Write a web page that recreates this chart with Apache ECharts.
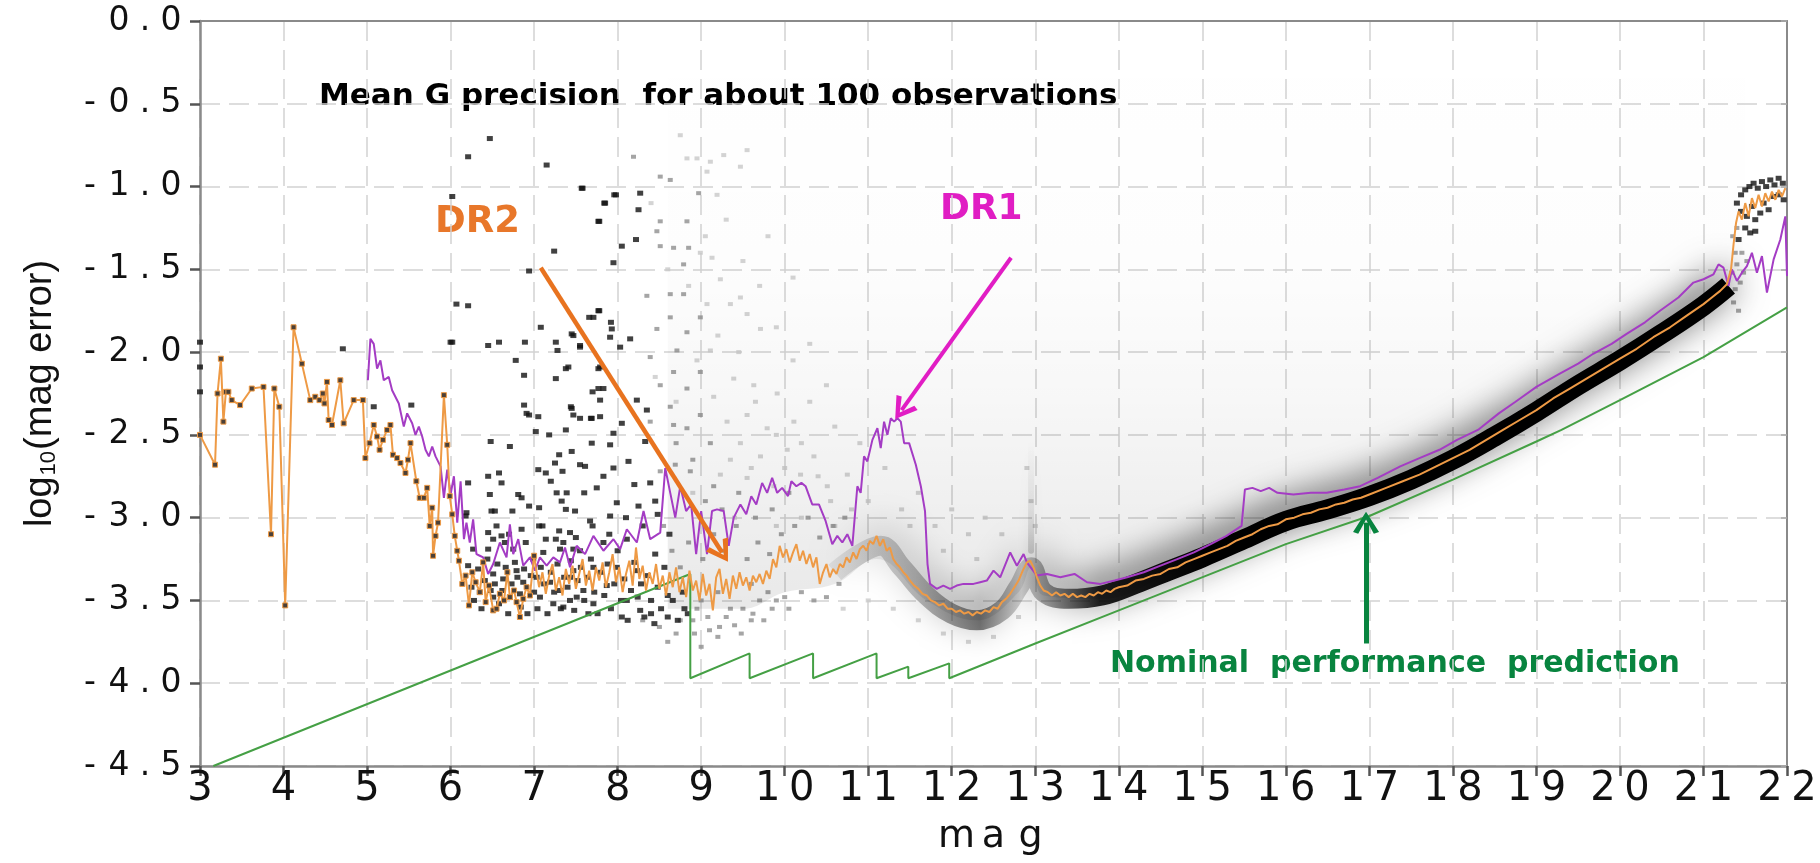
<!DOCTYPE html>
<html><head><meta charset="utf-8">
<script src="https://cdn.jsdelivr.net/npm/echarts@6/dist/echarts.min.js"></script>
<style>html,body{margin:0;padding:0;background:#fff}#c{width:1820px;height:863px}</style>
</head><body><div id="c"></div>
<script>
// ---- axis ranges / ticks ----
const X_MIN = 3, X_MAX = 22, X_STEP = 1;
const Y_MIN = -4.5, Y_MAX = 0, Y_STEP = 0.5;

// ---- DR2 median (bright end, with point markers) [mag, log10 err] ----
const dr2Bright = [
[3.0,-2.50],[3.18,-2.68],[3.21,-2.25],[3.25,-2.04],[3.28,-2.42],[3.31,-2.24],[3.34,-2.24],[3.38,-2.29],
[3.48,-2.32],[3.62,-2.22],[3.76,-2.21],[3.85,-3.10],[3.89,-2.22],[3.95,-2.33],[4.02,-3.53],[4.12,-1.85],
[4.22,-2.07],[4.32,-2.29],[4.38,-2.27],[4.43,-2.29],[4.47,-2.25],[4.49,-2.31],[4.52,-2.18],[4.54,-2.41],
[4.58,-2.44],[4.68,-2.17],[4.72,-2.43],[4.84,-2.29],[4.95,-2.29],[4.98,-2.64],[5.03,-2.55],[5.08,-2.44],
[5.12,-2.51],[5.15,-2.59],[5.19,-2.53],[5.24,-2.47],[5.28,-2.44],[5.31,-2.62],[5.36,-2.64],[5.40,-2.67],
[5.46,-2.73],[5.49,-2.65],[5.52,-2.55],[5.59,-2.78],[5.63,-2.88],[5.68,-2.88],[5.72,-2.82],[5.75,-3.05],
[5.78,-2.94],[5.79,-3.23],[5.82,-3.11],[5.85,-3.03],[5.92,-2.26],[5.96,-2.56],[5.99,-2.87],[6.02,-2.98],
[6.05,-3.11],[6.08,-3.20],[6.10,-3.26],[6.14,-3.40],[6.18,-3.35],[6.22,-3.53],[6.26,-3.33],[6.30,-3.39],
[6.35,-3.45],[6.39,-3.27],[6.42,-3.51],[6.46,-3.41],[6.51,-3.56],[6.55,-3.55],[6.59,-3.46],[6.64,-3.50],
[6.68,-3.33],[6.71,-3.48],[6.76,-3.44],[6.79,-3.51],[6.83,-3.60],[6.87,-3.49],[6.91,-3.42],[6.95,-3.47],
[7.0,-3.23]
];

// ---- DR2 median (rest of the range) ----
const dr2 = [
[7.0,-3.23],[7.02,-3.30],[7.06,-3.42],[7.10,-3.33],[7.14,-3.46],[7.18,-3.35],[7.22,-3.28],[7.26,-3.44],[7.30,-3.36],
[7.34,-3.47],[7.38,-3.31],[7.42,-3.40],[7.46,-3.29],[7.50,-3.43],[7.54,-3.34],[7.58,-3.25],[7.62,-3.41],
[7.66,-3.32],[7.70,-3.44],[7.74,-3.30],[7.78,-3.38],[7.82,-3.27],[7.86,-3.42],[7.90,-3.33],[7.94,-3.22],
[7.98,-3.39],[8.02,-3.30],[8.06,-3.45],[8.10,-3.34],[8.14,-3.26],[8.18,-3.41],[8.22,-3.18],[8.26,-3.37],
[8.30,-3.29],[8.34,-3.44],[8.38,-3.33],[8.42,-3.40],[8.46,-3.28],[8.50,-3.43],[8.54,-3.35],[8.58,-3.47],
[8.62,-3.33],[8.66,-3.42],[8.70,-3.30],[8.74,-3.45],[8.78,-3.36],[8.82,-3.48],[8.86,-3.32],[8.90,-3.44],
[8.94,-3.38],[8.98,-3.50],[9.02,-3.34],[9.06,-3.47],[9.10,-3.40],[9.14,-3.56],[9.18,-3.36],[9.22,-3.31],
[9.26,-3.46],[9.30,-3.37],[9.34,-3.49],[9.38,-3.35],[9.42,-3.43],[9.46,-3.33],[9.50,-3.41],[9.54,-3.36],
[9.58,-3.44],[9.62,-3.35],[9.66,-3.39],[9.70,-3.34],[9.74,-3.40],[9.78,-3.32],[9.82,-3.37],[9.86,-3.25],
[9.90,-3.30],[9.94,-3.17],[9.98,-3.24],[10.02,-3.19],[10.06,-3.27],[10.10,-3.21],[10.14,-3.16],[10.18,-3.26],
[10.22,-3.20],[10.26,-3.28],[10.30,-3.22],[10.34,-3.30],[10.38,-3.24],[10.42,-3.40],[10.46,-3.33],[10.50,-3.28],
[10.54,-3.36],[10.58,-3.31],[10.62,-3.34],[10.66,-3.28],[10.70,-3.30],[10.74,-3.24],[10.78,-3.27],[10.82,-3.21],
[10.86,-3.25],[10.90,-3.19],[10.94,-3.17],[10.98,-3.20],[11.02,-3.14],[11.06,-3.16],[11.10,-3.11],[11.14,-3.17],
[11.18,-3.13],[11.22,-3.20],[11.26,-3.18],[11.30,-3.25],[11.34,-3.28],[11.38,-3.30],[11.42,-3.33],[11.46,-3.35],
[11.50,-3.38],[11.55,-3.41],[11.60,-3.43],[11.65,-3.46],[11.70,-3.47],[11.75,-3.50],[11.80,-3.51],[11.85,-3.53],
[11.90,-3.52],[11.95,-3.55],[12.00,-3.55],[12.05,-3.57],[12.10,-3.56],[12.15,-3.58],[12.20,-3.57],[12.25,-3.59],
[12.30,-3.57],[12.35,-3.58],[12.40,-3.56],[12.45,-3.57],[12.50,-3.54],[12.55,-3.55],[12.60,-3.51],[12.65,-3.49],
[12.70,-3.46],[12.75,-3.42],[12.80,-3.38],[12.85,-3.32],[12.90,-3.27],[12.94,-3.26],[12.98,-3.30],[13.02,-3.36],
[13.06,-3.41],[13.10,-3.44],[13.15,-3.45],[13.20,-3.47],[13.25,-3.45],[13.30,-3.47],[13.35,-3.46],[13.40,-3.48],
[13.45,-3.46],[13.50,-3.48],[13.55,-3.47],[13.60,-3.48],[13.65,-3.46],[13.70,-3.47],[13.75,-3.45],[13.80,-3.46],
[13.85,-3.44],[13.90,-3.45],[13.95,-3.43],[14.00,-3.42],[14.1,-3.41],[14.2,-3.38],[14.3,-3.37],[14.4,-3.35],
[14.5,-3.34],[14.6,-3.31],[14.7,-3.30],[14.8,-3.27],[14.9,-3.25],[15.0,-3.23],[15.1,-3.21],[15.2,-3.19],
[15.3,-3.17],[15.4,-3.14],[15.5,-3.12],[15.6,-3.10],[15.7,-3.07],[15.8,-3.05],[15.9,-3.04],[16.0,-3.01],
[16.1,-3.00],[16.2,-2.98],[16.3,-2.97],[16.4,-2.95],[16.5,-2.94],[16.6,-2.92],[16.7,-2.91],[16.8,-2.89],
[16.9,-2.88],[17.0,-2.86],[17.2,-2.82],[17.4,-2.78],[17.6,-2.74],[17.8,-2.69],[18.0,-2.64],[18.2,-2.59],
[18.4,-2.53],[18.6,-2.47],[18.8,-2.41],[19.0,-2.35],[19.2,-2.28],[19.4,-2.22],[19.6,-2.16],[19.8,-2.10],
[20.0,-2.04],[20.2,-1.98],[20.4,-1.91],[20.6,-1.85],[20.8,-1.78],[21.0,-1.71],[21.1,-1.67],[21.2,-1.63],
[21.28,-1.59],[21.33,-1.50],[21.36,-1.35],[21.39,-1.22],[21.42,-1.15],[21.46,-1.20],[21.50,-1.10],[21.54,-1.18],
[21.58,-1.07],[21.62,-1.13],[21.66,-1.05],[21.70,-1.12],[21.74,-1.04],[21.78,-1.09],[21.82,-1.03],[21.86,-1.08],
[21.90,-1.02],[21.94,-1.06],[21.98,-1.01]
];

// ---- DR1 median ----
const dr1 = [
[5.01,-2.17],[5.04,-1.92],[5.08,-1.95],[5.12,-2.10],[5.16,-2.05],[5.20,-2.17],[5.26,-2.15],[5.30,-2.23],
[5.38,-2.31],[5.44,-2.45],[5.48,-2.37],[5.54,-2.43],[5.58,-2.50],[5.62,-2.45],[5.66,-2.51],[5.70,-2.59],
[5.74,-2.63],[5.78,-2.57],[5.82,-2.63],[5.88,-2.69],[5.92,-2.88],[5.96,-2.71],[6.00,-2.86],[6.04,-2.75],
[6.08,-3.03],[6.12,-2.78],[6.16,-3.13],[6.19,-3.03],[6.23,-3.15],[6.27,-3.01],[6.31,-3.22],[6.35,-3.23],
[6.39,-3.24],[6.45,-3.34],[6.51,-3.28],[6.59,-3.15],[6.67,-3.24],[6.71,-3.04],[6.75,-3.22],[6.81,-3.13],
[6.87,-3.29],[6.95,-3.24],[7.01,-3.32],[7.07,-3.24],[7.15,-3.29],[7.23,-3.24],[7.31,-3.27],[7.37,-3.18],
[7.43,-3.30],[7.51,-3.17],[7.61,-3.22],[7.71,-3.11],[7.83,-3.20],[7.95,-3.13],[8.03,-3.19],[8.11,-3.07],
[8.23,-3.15],[8.31,-2.96],[8.39,-3.13],[8.51,-3.09],[8.57,-2.70],[8.63,-2.85],[8.69,-3.00],[8.75,-2.81],
[8.82,-2.96],[8.88,-2.92],[8.94,-3.22],[9.00,-2.96],[9.07,-3.22],[9.13,-2.96],[9.19,-2.95],[9.27,-2.96],
[9.33,-3.17],[9.39,-3.00],[9.47,-2.92],[9.54,-2.98],[9.60,-2.87],[9.66,-2.92],[9.73,-2.79],[9.79,-2.85],
[9.85,-2.76],[9.91,-2.85],[9.97,-2.82],[10.04,-2.87],[10.08,-2.78],[10.14,-2.81],[10.20,-2.79],[10.25,-2.81],
[10.33,-2.92],[10.41,-2.92],[10.49,-3.02],[10.57,-3.16],[10.63,-3.11],[10.69,-3.15],[10.75,-3.10],[10.81,-3.17],
[10.87,-2.81],[10.91,-2.85],[10.95,-2.63],[10.99,-2.66],[11.05,-2.53],[11.11,-2.46],[11.15,-2.58],[11.19,-2.42],
[11.23,-2.50],[11.27,-2.40],[11.31,-2.42],[11.35,-2.40],[11.39,-2.42],[11.43,-2.55],[11.49,-2.55],[11.57,-2.68],
[11.63,-2.81],[11.68,-2.96],[11.71,-3.28],[11.74,-3.40],[11.82,-3.43],[11.90,-3.41],[11.98,-3.43],[12.06,-3.41],
[12.14,-3.40],[12.26,-3.40],[12.34,-3.39],[12.42,-3.38],[12.50,-3.32],[12.58,-3.36],[12.70,-3.21],[12.78,-3.29],
[12.86,-3.22],[12.90,-3.27],[13.02,-3.35],[13.14,-3.34],[13.30,-3.36],[13.47,-3.34],[13.62,-3.39],[13.78,-3.40],
[13.95,-3.38],[14.1,-3.36],[14.3,-3.33],[14.5,-3.29],[14.7,-3.25],[14.9,-3.21],[15.1,-3.16],[15.29,-3.11],
[15.47,-3.05],[15.51,-2.83],[15.6,-2.82],[15.7,-2.84],[15.8,-2.82],[15.9,-2.85],[16.09,-2.86],[16.3,-2.85],
[16.49,-2.85],[16.7,-2.83],[16.89,-2.81],[17.1,-2.76],[17.37,-2.69],[17.6,-2.64],[17.84,-2.59],[18.05,-2.53],
[18.3,-2.47],[18.55,-2.37],[18.75,-2.30],[19.0,-2.21],[19.28,-2.13],[19.5,-2.07],[19.68,-2.01],[19.9,-1.95],
[20.08,-1.89],[20.3,-1.82],[20.48,-1.75],[20.7,-1.67],[20.88,-1.58],[21.0,-1.56],[21.12,-1.53],[21.18,-1.47],
[21.24,-1.49],[21.30,-1.60],[21.34,-1.50],[21.40,-1.57],[21.46,-1.52],[21.52,-1.48],[21.58,-1.40],[21.64,-1.52],
[21.70,-1.42],[21.76,-1.64],[21.84,-1.44],[21.92,-1.32],[21.98,-1.18],[22.0,-1.54]
];

// ---- nominal performance prediction ----
const nominal = [
[3.16,-4.50],[8.87,-3.34],[8.87,-3.97],[9.58,-3.82],[9.58,-3.97],[10.34,-3.82],[10.34,-3.97],
[11.10,-3.82],[11.10,-3.97],[11.48,-3.90],[11.48,-3.97],[11.97,-3.88],[11.97,-3.97],[13.0,-3.76],
[14.0,-3.56],[15.2,-3.32],[16.0,-3.16],[17.0,-2.99],[18.0,-2.77],[19.0,-2.54],[19.3,-2.47],
[20.0,-2.29],[21.0,-2.03],[22.0,-1.73]
];

// ---- individual sources (dark) ----
const blackDots = [
[3.0,-1.94],[3.0,-2.09],[3.0,-2.24],[4.71,-1.98],[5.08,-2.33],[5.53,-2.32],
[6.47,-0.71],[6.21,-0.82],[7.15,-0.87],[6.02,-1.06],[7.57,-1.01],[7.96,-1.05],[7.84,-1.10],[7.77,-1.21],
[7.24,-1.39],[6.94,-1.51],[6.07,-1.71],[6.21,-1.72],[7.08,-1.85],[6.02,-1.94],[6.45,-1.96],[6.58,-1.94],
[6.89,-1.94],[7.26,-1.94],[7.28,-1.99],[6.78,-2.05],[7.45,-1.89],[7.55,-1.96],[7.66,-1.79],[7.77,-1.75],
[7.92,-1.82],[6.88,-2.14],[7.26,-2.16],[7.38,-2.10],[7.77,-2.10],[7.70,-2.24],[6.88,-2.32],[6.94,-2.38],
[7.05,-2.39],[7.44,-2.33],[7.68,-2.40],[7.79,-2.29],[6.0,-1.94],[7.45,-2.34],[6.91,-2.37],[7.02,-2.48],
[7.18,-2.50],[7.38,-2.47],[6.48,-2.54],[6.71,-2.57],[7.30,-2.62],[7.25,-2.67],[7.05,-2.71],[7.14,-2.73],
[7.34,-2.72],[6.45,-2.75],[6.58,-2.73],[6.61,-2.79],[6.21,-2.79],[6.47,-2.86],[6.81,-2.86],[6.85,-2.88],
[6.94,-2.93],[6.49,-2.96],[6.53,-2.96],[6.74,-2.96],[7.06,-2.94],[7.27,-2.85],[7.33,-2.90],[7.38,-2.95],
[6.19,-2.97],[6.18,-2.99],[6.45,-3.09],[6.51,-3.13],[6.61,-3.11],[6.85,-3.07],[7.06,-3.05],[7.14,-3.13],
[7.26,-3.13],[7.43,-3.09],[6.27,-3.19],[6.45,-3.19],[6.65,-3.15],[6.75,-3.19],[6.99,-3.25],[7.11,-3.21],
[7.31,-3.19],[7.47,-3.19],[6.21,-3.29],[6.51,-3.34],[6.63,-3.37],[6.79,-3.32],[6.87,-3.39],[7.03,-3.36],
[7.19,-3.39],[7.31,-3.44],[7.43,-3.36],[6.71,-3.48],[6.83,-3.46],[7.07,-3.48],[7.23,-3.52],[7.35,-3.54],
[7.51,-3.48],[6.35,-3.45],[6.51,-3.48],
[7.58,-1.01],[7.98,-1.05],[7.85,-1.10],[8.25,-1.14],[7.78,-1.21],[8.27,-1.04],[7.95,-1.46],[8.05,-1.36],
[8.22,-1.32],[7.71,-1.79],[7.78,-1.75],[7.47,-1.90],[7.55,-1.97],[7.93,-1.86],[7.91,-1.91],[7.41,-2.09],
[7.79,-2.09],[7.77,-2.22],[7.83,-2.22],[8.03,-1.97],[8.15,-1.92],[7.47,-2.38],[7.69,-2.40],[7.79,-2.39],
[7.95,-2.49],[8.05,-2.43],[8.23,-2.29],[7.69,-2.55],[7.91,-2.56],[7.55,-2.68],[7.61,-2.69],[7.83,-2.75],
[7.39,-2.85],[7.75,-2.82],[8.13,-2.66],[8.33,-2.54],[7.99,-2.91],[7.49,-2.96],[7.67,-3.02],[7.91,-2.99],
[8.25,-2.93],[8.39,-2.79],[7.55,-3.20],[7.35,-3.15],[7.83,-3.15],[8.11,-3.13],[7.47,-3.32],[7.71,-3.30],
[7.99,-3.30],[8.23,-3.32],[7.59,-3.44],[7.87,-3.41],[7.43,-3.50],[7.71,-3.52],[8.11,-3.50],[8.27,-3.56],
[8.45,-3.22],[8.60,-3.47],[8.05,-3.60],[8.40,-3.58],[8.80,-3.55],[7.65,-3.58],[8.62,-3.10],[8.48,-2.98],
[6.25,-3.42],[6.28,-3.50],[6.33,-3.31],[6.37,-3.55],[6.41,-3.38],[6.44,-3.25],[6.48,-3.44],[6.53,-3.40],
[6.56,-3.28],[6.58,-3.52],[6.62,-3.44],[6.66,-3.30],[6.69,-3.58],[6.73,-3.40],[6.77,-3.27],[6.80,-3.36],
[6.84,-3.54],[6.88,-3.31],[6.92,-3.58],[6.96,-3.35],[7.00,-3.45],[7.04,-3.55],[7.08,-3.30],[7.12,-3.40],
[7.16,-3.58],[7.20,-3.33],[7.24,-3.45],[7.28,-3.28],[7.32,-3.55],[7.36,-3.36],[7.40,-3.42],[7.44,-3.26],
[7.48,-3.56],[7.52,-3.38],[7.56,-3.30],[7.60,-3.50],[7.64,-3.36],[7.68,-3.25],[7.72,-3.45],[7.76,-3.58],
[7.80,-3.33],[7.84,-3.47],[7.88,-3.28],[7.92,-3.55],[7.96,-3.40],[8.00,-3.20],[8.04,-3.50],[8.08,-3.37],
[8.12,-3.62],[8.16,-3.44],[8.20,-3.27],[8.24,-3.48],[8.28,-3.40],[8.32,-3.60],[8.36,-3.35],[8.40,-3.50],
[8.44,-3.64],[8.48,-3.42],[8.52,-3.55],[8.56,-3.30],[8.60,-3.60],[8.66,-3.50],[8.72,-3.62],[8.78,-3.45],
[8.84,-3.58],[6.55,-3.05],[6.70,-3.10],[6.90,-3.15],[7.10,-3.05],[7.30,-3.08],[7.50,-3.12],[7.70,-3.05],
[7.90,-3.10],[8.10,-3.00],[8.30,-3.05],[7.20,-2.78],[7.45,-2.60],[7.60,-2.85],[7.95,-2.70],[8.20,-2.80],
[7.55,-2.40],[8.35,-2.35],[8.45,-2.90],
[21.40,-1.10],[21.45,-1.05],[21.50,-1.02],[21.55,-1.00],[21.60,-0.98],[21.65,-1.01],[21.70,-0.97],
[21.75,-1.00],[21.80,-0.96],[21.85,-0.99],[21.90,-0.95],[21.95,-0.98],[21.45,-1.15],[21.52,-1.18],
[21.58,-1.12],[21.62,-1.20],[21.68,-1.16],[21.72,-1.10],[21.78,-1.14],[21.84,-1.06],[21.50,-1.25],
[21.56,-1.28],[21.62,-1.27],[21.42,-1.32],[21.90,-1.05],[21.96,-1.08]
];

// ---- individual sources (grey) ----
const greyDots = [
[8.19,-0.82],[8.51,-0.94],[8.63,-0.96],[8.51,-1.21],[8.47,-1.27],[8.67,-1.37],[8.51,-1.36],[8.63,-1.65],
[8.35,-1.66],[8.63,-1.79],[8.47,-1.86],[8.71,-1.99],[8.39,-2.03],[8.67,-2.12],[8.51,-2.20],[8.63,-2.33],
[8.39,-2.42],[8.51,-2.72],[8.87,-2.72],[9.15,-2.81],[8.83,-2.22],[8.83,-2.46],[8.79,-1.65],[8.83,-1.88],
[8.99,-1.79],[8.99,-2.12],[8.99,-2.38],[9.11,-2.55],[8.69,-2.68],[8.67,-2.44],[8.79,-1.47],[8.85,-1.37],
[8.83,-1.21],[8.97,-1.04],
[8.30,-3.62],[8.50,-3.66],[8.70,-3.70],[8.90,-3.62],[9.10,-3.68],[9.30,-3.60],[9.50,-3.55],[9.70,-3.50],
[8.60,-3.75],[9.00,-3.78],[9.20,-3.72],[8.95,-3.55],[9.40,-3.65],[9.60,-3.62],[9.85,-3.55],[10.0,-3.48],
[8.55,-3.05],[8.65,-3.20],[8.75,-3.62],[8.85,-3.15],[8.92,-3.70],[9.02,-3.25],[9.08,-3.60],[9.15,-3.10],
[9.22,-3.66],[9.28,-3.20],[9.35,-3.55],[9.42,-3.05],[9.48,-3.70],[9.55,-3.25],[9.62,-3.58],[9.68,-3.15],
[9.75,-3.62],[9.82,-3.22],[9.90,-3.50],[9.96,-3.10],[10.05,-3.55],[10.12,-3.05],[10.20,-3.45],[10.28,-3.00],
[10.35,-3.50],[10.42,-3.12],[10.50,-3.48],[10.58,-3.05],[10.65,-3.40],[10.72,-3.00],[8.70,-2.55],[8.90,-2.65],
[9.05,-2.90],[9.25,-2.95],[9.45,-2.85],[9.65,-3.00],[9.85,-2.95],[10.05,-2.85],[8.75,-3.30],[9.00,-3.50],
[9.20,-3.45],[9.60,-3.40],[9.80,-3.45],
[21.38,-1.40],[21.34,-1.52],[21.40,-1.47],[21.44,-1.58],[21.38,-1.62],[21.46,-1.40],[21.48,-1.52],
[21.52,-1.45],[21.36,-1.70],[21.42,-1.75],[21.35,-1.30],[21.40,-1.25]
];

// ---- individual sources (pale) ----
const paleDots = [
[8.75,-0.69],[8.83,-0.83],[8.95,-0.83],[9.11,-0.85],[9.27,-0.81],[9.47,-0.88],[9.55,-0.78],[9.07,-0.91],
[9.19,-1.05],[8.99,-1.40],[9.13,-1.43],[9.23,-1.56],[9.47,-1.67],[9.07,-1.71],[9.35,-1.71],[9.55,-1.77],
[9.71,-1.86],[9.11,-1.99],[9.39,-2.16],[9.63,-2.20],[9.91,-2.25],[9.15,-2.27],[9.31,-2.42],[9.55,-2.38],
[9.79,-2.46],[10.11,-2.42],[9.47,-2.55],[9.71,-2.63],[10.03,-2.59],[10.35,-2.63],[9.23,-2.74],[9.55,-2.76],
[9.87,-2.81],[10.19,-2.74],[10.51,-2.81],[10.75,-2.74],[9.8,-1.30],[10.1,-1.55],[10.3,-1.95],[10.5,-2.20],
[10.6,-2.45],[10.9,-2.55],[11.2,-2.70],[11.6,-2.85],[12.0,-2.95],[12.4,-3.00],[12.9,-2.70],[12.95,-2.90],
[13.0,-3.05],[10.2,-3.00],[10.6,-3.05],[11.5,-3.05],[11.9,-3.20],[12.3,-3.25],[9.9,-3.05],[9.4,-3.00],
[8.40,-1.10],[8.60,-1.50],[8.85,-1.60],[9.05,-1.30],[9.30,-1.20],[9.50,-1.45],[9.70,-1.60],[9.90,-1.85],
[10.10,-2.05],[10.30,-2.30],[8.45,-2.15],[8.70,-2.30],[8.95,-2.05],[9.20,-1.90],[9.45,-2.00],[9.65,-2.30],
[9.90,-2.50],[10.20,-2.55],[10.40,-2.75],[8.90,-2.85],[9.35,-2.65],[9.60,-2.70],[10.00,-2.70],[10.55,-2.90],
[10.80,-2.95],[11.00,-2.90],[11.40,-2.95],[11.80,-3.05],[12.20,-3.10],[12.60,-3.10],[10.70,-3.55],[11.00,-3.50],
[11.30,-3.55],[11.60,-3.62],[11.90,-3.70],[12.20,-3.75],[12.50,-3.72],[12.80,-3.60]
];

// ---- centre line of the dense source distribution ----
const bandCore = [
[10.6,-3.33],[10.9,-3.22],[11.15,-3.17],[11.4,-3.30],[11.7,-3.47],[12.0,-3.58],[12.3,-3.62],[12.6,-3.56],
[12.8,-3.42],[12.95,-3.30],[13.1,-3.45],[13.4,-3.49],[13.8,-3.47],[14.2,-3.40],[14.6,-3.32],[15.0,-3.24],
[15.5,-3.13],[16.0,-3.02],[16.5,-2.95],[17.0,-2.87],[17.5,-2.77],[18.0,-2.65],[18.5,-2.51],[19.0,-2.36],
[19.5,-2.20],[20.0,-2.05],[20.5,-1.89],[21.0,-1.72],[21.3,-1.60]
];
// ---- upper envelope of the faint haze of sources ----
const hazeLine = [
[8.6,-3.55],[9.5,-3.55],[10.0,-3.45],[10.6,-3.40],[11.1,-3.25],[11.7,-3.50],[12.3,-3.62],[12.8,-3.45],
[12.95,-3.30],[13.1,-3.47],[13.8,-3.49],[14.6,-3.34],[15.5,-3.15],[16.5,-2.97],[17.5,-2.79],[18.5,-2.53],
[19.5,-2.22],[20.5,-1.91],[21.3,-1.62],[21.5,-1.2]
];
// ---- faint vertical streak of sources above mag 13 ----
const streak13 = [[12.95,-2.55],[12.95,-3.2]];

// ---- annotation arrows, in data coordinates ----
const arrowDR2 = [[7.08,-1.49],[9.25,-3.21]];
const arrowDR1 = [[12.71,-1.43],[11.40,-2.35]];
const arrowNominal = [[16.96,-3.76],[16.96,-3.03]];

const AX_FONT = 'DejaVu Sans';
const NAME_FONT = 'Liberation Sans';
const ANN_FONT = 'DejaVu Sans';

function yLab(v){
  const s = (Math.abs(v) < 1e-9 ? 0 : v).toFixed(1);
  return s.split('').map(c => c === '-' ? '{m|-}' : c === '.' ? '{p|.}' : '{d|' + c + '}').join('');
}
function xLab(v){
  return String(Math.round(v)).split('').map(c => '{d|' + c + '}').join('');
}

const chevron = 'path://M10,0 L20,18 L16,19.5 L10,7 L4,19.5 L0,18 Z';

function arrowLine(pts, color, width){
  return [
    {coord: pts[0], symbol: 'none', lineStyle: {color: color, width: width, type: 'solid'}},
    {coord: pts[1], symbol: chevron, symbolSize: [26, 22], itemStyle: {color: color}}
  ];
}

const chart = echarts.init(document.getElementById('c'), null, {renderer: 'canvas'});
const gridDash = {color: '#d2d2d2', width: 1.5, type: [20, 9]};

chart.setOption({
  animation: false,
  backgroundColor: '#ffffff',
  grid: {left: 200, right: 33, top: 21, bottom: 97, containLabel: false},
  xAxis: [{
    type: 'value', min: X_MIN, max: X_MAX, interval: X_STEP, position: 'bottom',
    axisLine: {show: true, onZero: false, lineStyle: {color: '#8a8a8a', width: 2.5}},
    axisTick: {show: true, inside: false, length: 10, lineStyle: {color: '#555', width: 2.5}},
    splitLine: {show: true, lineStyle: gridDash},
    axisLabel: {
      margin: 4, formatter: xLab, color: '#111',
      rich: {d: {width: 34, align: 'center', fontSize: 40, fontFamily: AX_FONT, color: '#111'}}
    },
    name: '{c|m}{c|a}{c|g}', nameLocation: 'middle', nameGap: 52,
    nameTextStyle: {rich: {c: {width: 37, align: 'center', fontSize: 38, fontFamily: AX_FONT, color: '#111'}}}
  }, {
    type: 'value', min: X_MIN, max: X_MAX, interval: X_STEP, position: 'top',
    axisLine: {show: true, onZero: false, lineStyle: {color: '#8a8a8a', width: 2}},
    axisTick: {show: false}, axisLabel: {show: false}, splitLine: {show: false}
  }],
  yAxis: [{
    type: 'value', min: Y_MIN, max: Y_MAX, interval: Y_STEP, position: 'left',
    axisLine: {show: true, onZero: false, lineStyle: {color: '#8a8a8a', width: 2.5}},
    axisTick: {show: true, inside: false, length: 10, lineStyle: {color: '#555', width: 2.5}},
    splitLine: {show: true, lineStyle: gridDash},
    axisLabel: {
      margin: 14, formatter: yLab, color: '#111',
      rich: {
        d: {width: 30, align: 'center', fontSize: 33, fontFamily: AX_FONT, color: '#111'},
        m: {width: 28, align: 'center', fontSize: 33, fontFamily: AX_FONT, color: '#111'},
        p: {width: 22, align: 'center', fontSize: 33, fontFamily: AX_FONT, color: '#111'}
      }
    },
    name: '{n|log}{s|10}{n|(mag error)}', nameLocation: 'middle', nameGap: 140,
    nameTextStyle: {rich: {
      n: {fontSize: 38, fontFamily: NAME_FONT, color: '#111'},
      s: {fontSize: 22, fontFamily: NAME_FONT, color: '#111', verticalAlign: 'bottom', padding: [14, 1, 0, 1]}
    }}
  }, {
    type: 'value', min: Y_MIN, max: Y_MAX, interval: Y_STEP, position: 'right',
    axisLine: {show: true, onZero: false, lineStyle: {color: '#8a8a8a', width: 2}},
    axisTick: {show: true, inside: true, length: 6, lineStyle: {color: '#aaa', width: 1.5}},
    axisLabel: {show: false}, splitLine: {show: false}
  }],
  graphic: [
    {type: 'text', x: 319, y: 97, silent: true, style: {
      text: 'Mean G precision  for about 100 observations', fontFamily: ANN_FONT, fontWeight: 'bold',
      fontSize: 31, fill: '#000', verticalAlign: 'middle'}},
    {type: 'text', x: 435, y: 222, silent: true, style: {
      text: 'DR2', fontFamily: ANN_FONT, fontWeight: 'bold', fontSize: 37, fill: '#E8772A', verticalAlign: 'middle'}},
    {type: 'text', x: 940, y: 210, silent: true, style: {
      text: 'DR1', fontFamily: ANN_FONT, fontWeight: 'bold', fontSize: 36, fill: '#E11DC4', verticalAlign: 'middle'}},
    {type: 'text', x: 1110, y: 664, silent: true, style: {
      text: 'Nominal  performance  prediction', fontFamily: ANN_FONT, fontWeight: 'bold', fontSize: 30,
      fill: '#08843F', verticalAlign: 'middle'}}
  ],
  series: [
    { // broad faint haze of the source distribution
      name: 'haze', type: 'line', data: hazeLine, symbol: 'none', silent: true, smooth: 0.4,
      lineStyle: {width: 0, opacity: 0},
      areaStyle: {origin: 'end', color: new echarts.graphic.LinearGradient(0, 0, 0, 1, [
        {offset: 0, color: 'rgba(0,0,0,0)'},
        {offset: 0.4, color: 'rgba(0,0,0,0.012)'},
        {offset: 0.62, color: 'rgba(0,0,0,0.045)'},
        {offset: 0.82, color: 'rgba(0,0,0,0.09)'},
        {offset: 1, color: 'rgba(0,0,0,0.13)'}
      ])}
    },
    { // faint streak of sources above the mag-13 feature
      name: 'streak', type: 'line', data: streak13, symbol: 'none', silent: true,
      lineStyle: {width: 6, cap: 'round',
        color: new echarts.graphic.LinearGradient(0, 0, 0, 1, [
          {offset: 0, color: 'rgba(0,0,0,0)'},
          {offset: 0.6, color: 'rgba(0,0,0,0.07)'},
          {offset: 1, color: 'rgba(0,0,0,0.16)'}
        ]),
        shadowBlur: 12, shadowColor: 'rgba(0,0,0,0.5)'}
    },
    { // dense core of the source distribution
      name: 'core', type: 'line', data: bandCore, symbol: 'none', silent: true, smooth: 0.4,
      lineStyle: {width: 20,
        color: new echarts.graphic.LinearGradient(0, 0, 1, 0, [
          {offset: 0, color: 'rgba(60,60,60,0.08)'},
          {offset: 0.1, color: 'rgba(40,40,40,0.3)'},
          {offset: 0.17, color: 'rgba(20,20,20,0.55)'},
          {offset: 0.215, color: 'rgba(40,40,40,0.2)'},
          {offset: 0.3, color: 'rgba(0,0,0,0.85)'},
          {offset: 0.42, color: '#000'},
          {offset: 1, color: '#000'}
        ]),
        shadowBlur: 36, shadowColor: 'rgba(0,0,0,0.8)', shadowOffsetY: -8, cap: 'butt'}
    },
    {name: 'pale', type: 'scatter', data: paleDots, symbol: 'rect', symbolSize: [5, 4], silent: true,
      itemStyle: {color: '#c9c9c9'}},
    {name: 'grey', type: 'scatter', data: greyDots, symbol: 'rect', symbolSize: [5, 4], silent: true,
      itemStyle: {color: '#8e8e8e'}},
    {name: 'black', type: 'scatter', data: blackDots, symbol: 'rect', symbolSize: [6, 5], silent: true,
      itemStyle: {color: '#111'}},
    {name: 'Nominal', type: 'line', data: nominal, symbol: 'none', silent: true,
      lineStyle: {color: '#45A045', width: 2}},
    {name: 'DR1', type: 'line', data: dr1, symbol: 'none', silent: true,
      lineStyle: {color: '#A43CC4', width: 2}},
    {name: 'DR2', type: 'line', data: dr2, symbol: 'none', silent: true,
      lineStyle: {color: '#EE9A45', width: 2}},
    {name: 'DR2 bright', type: 'line', data: dr2Bright, symbol: 'rect', symbolSize: 5, showSymbol: true, silent: true,
      lineStyle: {color: '#EE9A45', width: 2},
      itemStyle: {color: '#4a4038', borderColor: '#EE9A45', borderWidth: 1}},
    {name: 'annotations', type: 'line', data: [], silent: true,
      markLine: {silent: true, animation: false, label: {show: false},
        data: [
          arrowLine(arrowDR2, '#E8731F', 4.5),
          arrowLine(arrowDR1, '#E11DC4', 4),
          arrowLine(arrowNominal, '#08843F', 5)
        ]}
    }
  ]
});
</script></body></html>
